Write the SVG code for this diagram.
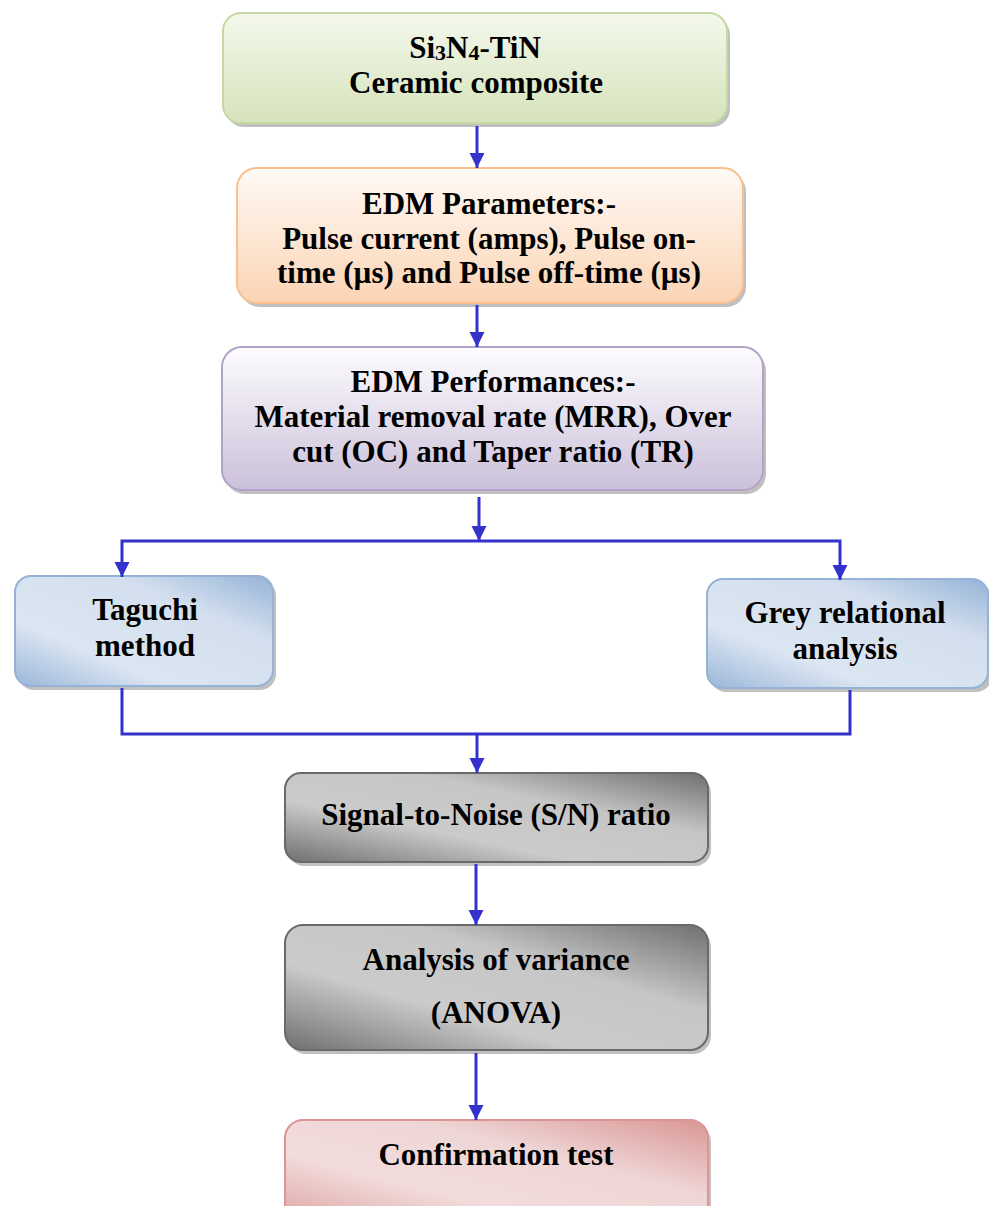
<svg xmlns="http://www.w3.org/2000/svg" width="989" height="1206" viewBox="0 0 989 1206">
<style>
.t{font-family:"Liberation Serif","Times New Roman",serif;font-weight:bold;font-size:31px;fill:#000;text-anchor:middle}
.sh{fill:#8c8c8c;opacity:0.55}
.c{fill:none;stroke:#3333cc;stroke-width:3}
.ca{fill:none;stroke:#3333cc;stroke-width:3;marker-end:url(#ah)}
</style>
<defs>
<marker id="ah" markerUnits="userSpaceOnUse" markerWidth="16" markerHeight="16" refX="15" refY="7.5" orient="auto">
<path d="M0,0 L15,7.5 L0,15 z" fill="#3333cc"/>
</marker>
<linearGradient id="gGreen" x1="0" y1="0" x2="0" y2="1">
<stop offset="0" stop-color="#f4f8ec"/><stop offset="1" stop-color="#d6e3bc"/>
</linearGradient>
<linearGradient id="gOrange" x1="0" y1="0" x2="0" y2="1">
<stop offset="0" stop-color="#fffaf6"/><stop offset="1" stop-color="#fbd4b4"/>
</linearGradient>
<linearGradient id="gPurple" x1="0" y1="0" x2="0" y2="1">
<stop offset="0" stop-color="#fdfcfe"/><stop offset="1" stop-color="#cbc0da"/>
</linearGradient>
<linearGradient id="gBlue" x1="0" y1="1" x2="1" y2="0">
<stop offset="0" stop-color="#9ab6d9"/><stop offset="0.3" stop-color="#dce6f2"/><stop offset="0.7" stop-color="#d3dfee"/><stop offset="1" stop-color="#95b3d7"/>
</linearGradient>
<linearGradient id="gGray" x1="0" y1="1" x2="1" y2="0">
<stop offset="0" stop-color="#6f6f6f"/><stop offset="0.35" stop-color="#cbcbcb"/><stop offset="0.65" stop-color="#c6c6c6"/><stop offset="1" stop-color="#6f6f6f"/>
</linearGradient>
<linearGradient id="gPink" x1="0" y1="1" x2="1" y2="0">
<stop offset="0" stop-color="#daa09f"/><stop offset="0.35" stop-color="#f2dcdb"/><stop offset="0.65" stop-color="#efd6d6"/><stop offset="1" stop-color="#d99694"/>
</linearGradient>
</defs>

<g id="n1">
<rect class="sh" x="226" y="17" width="504" height="110" rx="18"/>
<rect x="223" y="13" width="504" height="110" rx="18" fill="url(#gGreen)" stroke="#c5d9a2" stroke-width="2"/>
<text class="t" x="475" y="58">Si<tspan font-size="22" dy="2">3</tspan><tspan dy="-2">N</tspan><tspan font-size="22" dy="2">4</tspan><tspan dy="-2">-TiN</tspan></text>
<text class="t" x="476" y="93">Ceramic composite</text>
</g>

<g id="n2">
<rect class="sh" x="240" y="172" width="506" height="135" rx="20"/>
<rect x="237" y="168" width="506" height="135" rx="20" fill="url(#gOrange)" stroke="#f9bf8f" stroke-width="2"/>
<text class="t" x="489" y="214">EDM Parameters:-</text>
<text class="t" x="489" y="249">Pulse current (amps), Pulse on-</text>
<text class="t" x="489" y="283">time (µs) and Pulse off-time (µs)</text>
</g>

<g id="n3">
<rect class="sh" x="225" y="351" width="541" height="143" rx="20"/>
<rect x="222" y="347" width="541" height="143" rx="20" fill="url(#gPurple)" stroke="#b3a2c7" stroke-width="2"/>
<text class="t" x="493" y="392">EDM Performances:-</text>
<text class="t" x="493" y="427">Material removal rate (MRR), Over</text>
<text class="t" x="493" y="462">cut (OC) and Taper ratio (TR)</text>
</g>

<g id="n4">
<rect class="sh" x="18" y="580" width="258" height="110" rx="16"/>
<rect x="15" y="576" width="258" height="110" rx="16" fill="url(#gBlue)" stroke="#95b3d7" stroke-width="2"/>
<text class="t" x="145" y="620">Taguchi</text>
<text class="t" x="145" y="656">method</text>
</g>

<g id="n5">
<rect class="sh" x="710" y="583" width="282" height="109" rx="16"/>
<rect x="707" y="579" width="281" height="109" rx="16" fill="url(#gBlue)" stroke="#95b3d7" stroke-width="2"/>
<text class="t" x="845" y="623">Grey relational</text>
<text class="t" x="845" y="659">analysis</text>
</g>

<g id="n6">
<rect class="sh" x="288" y="777" width="423" height="89" rx="16"/>
<rect x="285" y="773" width="423" height="89" rx="16" fill="url(#gGray)" stroke="#6a6a6a" stroke-width="2"/>
<text class="t" x="496" y="825">Signal-to-Noise (S/N) ratio</text>
</g>

<g id="n7">
<rect class="sh" x="288" y="929" width="423" height="125" rx="18"/>
<rect x="285" y="925" width="423" height="125" rx="18" fill="url(#gGray)" stroke="#6a6a6a" stroke-width="2"/>
<text class="t" x="496" y="970">Analysis of variance</text>
<text class="t" x="496" y="1023">(ANOVA)</text>
</g>

<g id="n8">
<rect class="sh" x="288" y="1124" width="423" height="110" rx="18"/>
<rect x="285" y="1120" width="423" height="110" rx="18" fill="url(#gPink)" stroke="#d99694" stroke-width="2"/>
<text class="t" x="496" y="1165">Confirmation test</text>
</g>

<g id="connectors">
<path class="ca" d="M477,126 V168"/>
<path class="ca" d="M477,305 V347"/>
<path class="ca" d="M479,497 V541"/>
<path class="ca" d="M479,541 H122 V577"/>
<path class="ca" d="M479,541 H840 V580"/>
<path class="c" d="M122,688 V734 H850 V690"/>
<path class="ca" d="M477,734 V773"/>
<path class="ca" d="M476,864 V925"/>
<path class="ca" d="M476,1053 V1120"/>
</g>
</svg>
